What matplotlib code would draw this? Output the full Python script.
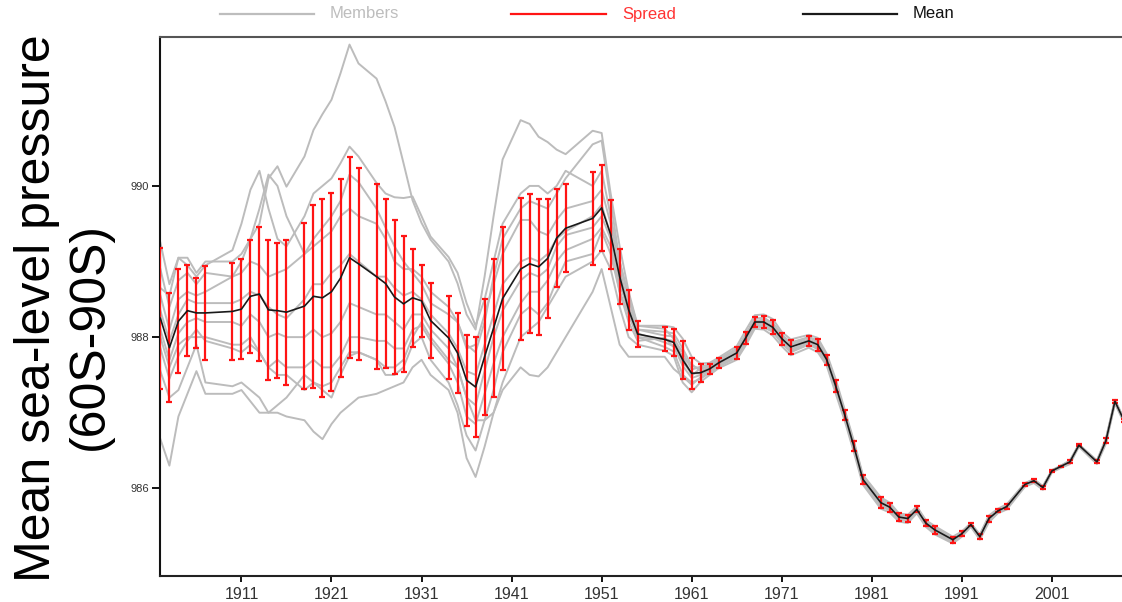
import matplotlib
matplotlib.use("Agg")
import matplotlib.pyplot as plt
from matplotlib.lines import Line2D

plt.rcParams['font.family'] = ['Liberation Sans', 'DejaVu Sans']

# Years with data (some years are missing in the source series)
years = [1902, 1903, 1904, 1905, 1906, 1907,
         1910, 1911, 1912, 1913, 1914, 1915, 1916,
         1918, 1919, 1920, 1921, 1922, 1923, 1924,
         1926, 1927, 1928, 1929, 1930, 1931, 1932,
         1934, 1935, 1936, 1937, 1938, 1939, 1940,
         1942, 1943, 1944, 1945, 1946, 1947,
         1950, 1951, 1952, 1953, 1954, 1955,
         1958, 1959, 1960, 1961, 1962, 1963, 1964,
         1966, 1967, 1968, 1969, 1970, 1971, 1972,
         1974, 1975, 1976, 1977, 1978, 1979, 1980,
         1982, 1983, 1984, 1985, 1986, 1987, 1988,
         1990, 1991, 1992, 1993, 1994, 1995, 1996,
         1998, 1999, 2000, 2001, 2002, 2003, 2004,
         2006, 2007, 2008, 2009]

# Ensemble mean (hPa)
mean_slp = [988.25, 987.86, 988.21, 988.35, 988.32, 988.32,
            988.34, 988.37, 988.54, 988.57, 988.36, 988.35, 988.33,
            988.41, 988.54, 988.52, 988.60, 988.78, 989.05, 988.97,
            988.80, 988.71, 988.53, 988.44, 988.52, 988.48, 988.22,
            987.99, 987.79, 987.43, 987.34, 987.74, 988.12, 988.51,
            988.90, 988.97, 988.93, 989.04, 989.31, 989.44,
            989.57, 989.71, 989.36, 988.80, 988.36, 988.04,
            987.97, 987.93, 987.70, 987.52, 987.53, 987.58, 987.66,
            987.79, 987.99, 988.20, 988.20, 988.13, 987.98, 987.87,
            987.95, 987.90, 987.70, 987.35, 986.97, 986.56, 986.12,
            985.81, 985.75, 985.62, 985.60, 985.72, 985.54, 985.45,
            985.32, 985.40, 985.52, 985.36, 985.60, 985.70, 985.76,
            986.05, 986.10, 986.01, 986.23, 986.29, 986.35, 986.57,
            986.35, 986.63, 987.15, 986.90]

# Spread (half length of the red bars, hPa)
spread = [0.93, 0.72, 0.69, 0.60, 0.46, 0.62,
          0.64, 0.66, 0.75, 0.89, 0.93, 0.89, 0.96,
          1.10, 1.21, 1.31, 1.31, 1.31, 1.33, 1.27,
          1.22, 1.12, 1.02, 0.90, 0.65, 0.48, 0.49,
          0.55, 0.53, 0.60, 0.66, 0.77, 0.91, 0.95,
          0.94, 0.92, 0.90, 0.79, 0.65, 0.58,
          0.62, 0.57, 0.46, 0.36, 0.26, 0.17,
          0.16, 0.18, 0.25, 0.20, 0.12, 0.07, 0.07,
          0.08, 0.08, 0.07, 0.08, 0.09, 0.08, 0.09,
          0.07, 0.08, 0.07, 0.08, 0.07, 0.07, 0.06,
          0.07, 0.06, 0.05, 0.05, 0.04, 0.04, 0.05,
          0.04, 0.03, 0.02, 0.03, 0.04, 0.02, 0.03,
          0.02, 0.02, 0.02, 0.01, 0.01, 0.02, 0.01,
          0.02, 0.03, 0.02, 0.02]

# Members, 1902-1955 (absolute values, hPa)
mem_a = [989.25, 988.70, 989.05, 989.05, 988.85, 989.00,
         989.00, 989.10, 989.30, 989.50, 990.10, 990.26, 989.99,
         990.39, 990.74, 990.95, 991.14, 991.49, 991.87, 991.62,
         991.42, 991.12, 990.78, 990.30, 989.81, 989.51, 989.29,
         989.00, 988.71, 988.30, 988.10, 988.80, 989.60, 990.35,
         990.87, 990.82, 990.65, 990.58, 990.48, 990.42,
         990.73, 990.70, 989.90, 989.20, 988.60, 988.15]
mem_b = [988.90, 988.40, 988.75, 988.85, 988.70, 988.85,
         988.80, 988.85, 989.00, 988.95, 988.80, 988.85, 988.90,
         989.10, 989.30, 989.45, 989.60, 989.80, 990.15, 990.05,
         989.70, 989.45, 989.20, 989.00, 988.85, 988.70, 988.45,
         988.30, 988.20, 987.85, 987.90, 988.30, 988.70, 989.10,
         989.55, 989.55, 989.40, 989.35, 989.55, 989.70,
         989.80, 989.95, 989.50, 988.90, 988.40, 988.10]
mem_c = [988.65, 988.55, 989.05, 988.95, 988.80, 988.95,
         989.15, 989.50, 989.95, 990.20, 989.70, 989.30, 989.20,
         989.60, 989.90, 990.00, 990.10, 990.30, 990.52, 990.39,
         990.04, 989.90, 989.85, 989.84, 989.86, 989.60, 989.33,
         989.06, 988.85, 988.45, 988.15, 988.50, 989.00, 989.50,
         989.90, 990.00, 990.00, 989.90, 990.00, 990.20,
         990.00, 990.20, 989.60, 989.00, 988.55, 988.15]
mem_d = [988.55, 988.10, 988.50, 988.60, 988.55, 988.60,
         988.80, 989.00, 989.30, 989.70, 990.15, 990.00, 989.60,
         989.10, 989.20, 989.30, 989.40, 989.60, 989.70, 989.60,
         989.50, 989.30, 989.00, 988.90, 988.90, 988.80, 988.60,
         988.40, 988.20, 987.90, 987.80, 988.20, 988.80, 989.30,
         989.70, 989.80, 989.75, 989.70, 989.90, 990.10,
         990.55, 990.60, 989.80, 989.00, 988.50, 988.10]
mem_e = [988.35, 987.95, 988.30, 988.50, 988.45, 988.45,
         988.45, 988.50, 988.60, 988.55, 988.40, 988.30, 988.25,
         988.50, 988.70, 988.70, 988.85, 988.95, 989.10, 989.00,
         988.80, 988.80, 988.65, 988.55, 988.60, 988.50, 988.30,
         988.05, 987.85, 987.55, 987.50, 987.90, 988.30, 988.70,
         989.00, 989.05, 989.00, 989.10, 989.30, 989.40,
         989.60, 989.75, 989.35, 988.80, 988.30, 988.00]
mem_f = [988.10, 987.70, 988.05, 988.20, 988.25, 988.20,
         988.20, 988.15, 988.30, 988.20, 988.00, 988.05, 988.00,
         988.00, 988.10, 988.00, 988.05, 988.20, 988.45, 988.40,
         988.30, 988.30, 988.20, 988.10, 988.30, 988.30, 988.10,
         987.85, 987.60, 987.20, 987.10, 987.55, 988.00, 988.35,
         988.75, 988.85, 988.80, 988.90, 989.20, 989.35,
         989.45, 989.60, 989.30, 988.70, 988.35, 988.05]
mem_g = [987.85, 987.45, 987.75, 987.95, 988.10, 987.95,
         987.85, 987.80, 987.90, 987.80, 987.60, 987.70, 987.60,
         987.60, 987.70, 987.60, 987.60, 987.75, 988.00, 988.00,
         987.95, 987.95, 987.85, 987.85, 988.10, 988.15, 987.95,
         987.65, 987.40, 986.95, 986.85, 987.25, 987.65, 988.00,
         988.45, 988.60, 988.60, 988.75, 989.00, 989.15,
         989.30, 989.45, 989.20, 988.60, 988.30, 988.00]
mem_h = [987.55, 987.20, 987.30, 987.60, 987.90, 987.40,
         987.35, 987.40, 987.30, 987.20, 987.00, 987.00, 986.95,
         986.90, 986.75, 986.65, 986.85, 987.00, 987.10, 987.20,
         987.25, 987.30, 987.35, 987.40, 987.60, 987.70, 987.50,
         987.30, 987.00, 986.40, 986.15, 986.55, 987.00, 987.40,
         988.00, 988.10, 988.20, 988.40, 988.60, 988.80,
         989.00, 989.15, 988.90, 988.40, 988.00, 987.90]
mem_i = [986.65, 986.30, 986.95, 987.25, 987.55, 987.25,
         987.25, 987.30, 987.15, 987.00, 987.00, 987.10, 987.20,
         987.50, 987.40, 987.30, 987.20, 987.50, 987.75, 987.80,
         987.70, 987.50, 987.50, 987.60, 987.90, 988.00, 987.70,
         987.40, 987.10, 986.70, 986.50, 986.90, 987.30, 987.80,
         988.30, 988.40, 988.30, 988.45, 988.75, 989.00,
         989.10, 989.40, 989.10, 988.60, 988.20, 987.95]
mem_j = [988.00, 987.60, 987.90, 988.00, 988.00, 988.00,
         987.90, 987.90, 988.00, 987.80, 987.60, 987.50, 987.50,
         987.30, 987.40, 987.35, 987.40, 987.60, 987.80, 987.80,
         987.70, 987.60, 987.60, 987.70, 988.00, 988.20, 988.00,
         987.70, 987.60, 987.20, 986.90, 986.90, 987.00, 987.30,
         987.60, 987.50, 987.48, 987.60, 987.80, 988.00,
         988.60, 988.90, 988.40, 987.90, 987.74, 987.74]

# Members, 1958-2009: they hug the mean, so read as offsets from it (hPa)
dev_a = [0.18, 0.20, 0.28, 0.22, 0.12, 0.08, 0.07,
         0.09, 0.10, 0.09, 0.10, 0.11, 0.09, 0.10,
         0.08, 0.09, 0.08, 0.09, 0.07, 0.07, 0.06,
         0.07, 0.06, 0.05, 0.05, 0.04, 0.04, 0.05,
         0.04, 0.03, 0.02, 0.03, 0.04, 0.03, 0.03,
         0.02, 0.02, 0.02, 0.01, 0.01, 0.02, 0.01,
         0.02, 0.03, 0.02, 0.02]
dev_b = [0.10, 0.12, 0.15, 0.10, 0.05, 0.04, 0.03,
         0.04, 0.05, 0.04, 0.06, 0.05, 0.05, 0.06,
         0.05, 0.04, 0.05, 0.04, 0.05, 0.03, 0.03,
         0.04, 0.03, 0.03, 0.02, 0.02, 0.02, 0.03,
         0.02, 0.02, 0.01, 0.02, 0.02, 0.01, 0.02,
         0.01, 0.01, 0.01, 0.01, 0.00, 0.01, 0.01,
         0.01, 0.02, 0.01, 0.01]
dev_c = [0.14, 0.05, 0.10, 0.05, 0.08, 0.06, 0.05,
         0.06, 0.02, 0.06, 0.03, 0.06, 0.06, 0.03,
         0.05, 0.06, 0.04, 0.05, 0.04, 0.05, 0.04,
         0.04, 0.04, 0.02, 0.03, 0.03, 0.01, 0.02,
         0.03, 0.01, 0.01, 0.01, 0.03, 0.01, 0.01,
         0.01, 0.02, 0.01, 0.00, 0.01, 0.01, 0.00,
         0.01, 0.01, 0.02, 0.01]
dev_d = [0.05, 0.08, 0.02, 0.12, 0.02, 0.02, 0.02,
         0.02, 0.03, 0.01, 0.02, 0.02, 0.03, 0.02,
         0.02, 0.02, 0.01, 0.02, 0.02, 0.01, 0.02,
         0.02, 0.01, 0.01, 0.01, 0.01, 0.02, 0.01,
         0.01, 0.01, 0.00, 0.01, 0.01, 0.00, 0.01,
         0.00, 0.00, 0.01, 0.00, 0.00, 0.00, 0.00,
         0.00, 0.01, 0.00, 0.00]
dev_e = [0.00, 0.02, -0.03, 0.00, -0.01, 0.00, 0.01,
         0.00, -0.01, 0.00, 0.01, -0.01, 0.00, 0.01,
         0.00, 0.01, 0.00, -0.01, 0.00, 0.01, 0.00,
         0.00, 0.01, 0.00, 0.00, -0.01, 0.00, 0.00,
         0.00, 0.00, 0.00, 0.00, 0.00, 0.00, 0.00,
         0.00, 0.00, 0.00, 0.00, 0.00, 0.00, 0.00,
         0.00, 0.00, 0.00, 0.00]
dev_f = [-0.04, -0.05, -0.08, -0.06, -0.03, -0.02, -0.02,
         -0.03, -0.02, -0.03, -0.02, -0.03, -0.02, -0.03,
         -0.02, -0.03, -0.02, -0.03, -0.02, -0.02, -0.02,
         -0.02, -0.02, -0.01, -0.02, -0.01, -0.01, -0.02,
         -0.01, -0.01, -0.01, -0.01, -0.01, -0.01, -0.01,
         0.00, -0.01, 0.00, 0.00, 0.00, -0.01, 0.00,
         -0.01, -0.01, 0.00, -0.01]
dev_g = [-0.10, -0.12, -0.20, -0.12, -0.08, -0.05, -0.05,
         -0.06, -0.07, -0.06, -0.07, -0.06, -0.06, -0.07,
         -0.05, -0.06, -0.05, -0.06, -0.05, -0.05, -0.04,
         -0.05, -0.04, -0.04, -0.03, -0.03, -0.03, -0.04,
         -0.03, -0.02, -0.02, -0.02, -0.03, -0.02, -0.02,
         -0.02, -0.01, -0.02, -0.01, -0.01, -0.01, -0.01,
         -0.01, -0.02, -0.02, -0.01]
dev_h = [-0.15, -0.18, -0.30, -0.25, -0.12, -0.08, -0.07,
         -0.09, -0.10, -0.09, -0.10, -0.11, -0.10, -0.11,
         -0.09, -0.10, -0.08, -0.10, -0.08, -0.08, -0.07,
         -0.08, -0.07, -0.06, -0.06, -0.05, -0.05, -0.06,
         -0.05, -0.04, -0.03, -0.04, -0.05, -0.03, -0.04,
         -0.03, -0.03, -0.03, -0.02, -0.02, -0.03, -0.02,
         -0.03, -0.04, -0.03, -0.03]
dev_i = [0.02, -0.06, 0.05, -0.03, 0.06, 0.03, -0.04,
         0.03, -0.04, 0.02, -0.03, 0.03, -0.04, 0.04,
         -0.03, 0.03, -0.02, 0.03, -0.03, 0.02, -0.02,
         0.03, -0.02, 0.02, -0.02, 0.02, -0.02, 0.02,
         -0.02, 0.01, -0.01, 0.01, -0.01, 0.01, -0.01,
         0.01, -0.01, 0.01, -0.01, 0.01, -0.01, 0.01,
         -0.01, 0.01, -0.01, 0.01]
dev_j = [-0.23, -0.35, -0.22, -0.15, -0.06, -0.04, -0.03,
         -0.05, -0.04, -0.05, -0.04, -0.05, -0.04, -0.05,
         -0.04, -0.04, -0.03, -0.04, -0.04, -0.03, -0.03,
         -0.03, -0.03, -0.02, -0.02, -0.02, -0.02, -0.02,
         -0.02, -0.01, -0.01, -0.01, -0.02, -0.01, -0.01,
         -0.01, -0.01, -0.01, 0.00, 0.00, -0.01, 0.00,
         -0.01, -0.01, -0.01, -0.01]

early_members = [mem_a, mem_b, mem_c, mem_d, mem_e, mem_f, mem_g, mem_h, mem_i, mem_j]
late_devs = [dev_a, dev_b, dev_c, dev_d, dev_e, dev_f, dev_g, dev_h, dev_i, dev_j]

xticks = [1911, 1921, 1931, 1941, 1951, 1961, 1971, 1981, 1991, 2001]
yticks = [986, 988, 990]

W, H = 1122, 602
fig = plt.figure(figsize=(W / 100, H / 100), dpi=100)

# axes runs past the right edge of the picture (the reference is cropped there)
x0, x1 = 1901.9, 2010.0
px_per_year = 9.005
ax = fig.add_axes([159.5 / W, 26 / H, (x1 - x0) * px_per_year / W, 539 / H])
ax.set_xlim(x0, x1)
ax.set_ylim(984.84, 991.97)

n_early = len(mem_a)
for early, dev in zip(early_members, late_devs):
    vals = early + [m + d for m, d in zip(mean_slp[n_early:], dev)]
    ax.plot(years, vals, color='#bcbcbc', lw=1.4, zorder=1, solid_joinstyle='round')

ax.errorbar(years, mean_slp, yerr=spread, fmt='none', ecolor='#ff1414',
            elinewidth=1.6, capsize=2.2, capthick=1.6, zorder=3)
ax.plot(years, mean_slp, color='#1a1a1a', lw=1.2, zorder=4)

for side in ['left', 'bottom', 'top', 'right']:
    ax.spines[side].set_linewidth(1.5)
ax.spines['left'].set_color('#111111')
ax.spines['bottom'].set_color('#222222')
ax.spines['top'].set_color('#555555')

ax.set_xticks(xticks)
ax.set_yticks(yticks)
ax.tick_params(axis='y', length=6, width=1.3, labelsize=8, labelcolor='#333333', pad=1.5)
ax.tick_params(axis='x', length=4, width=1.3, labelsize=11.5, labelcolor='#333333', pad=4)

# y label: two lines placed separately
fig.text(37 / W, 1 - 308 / H, 'Mean sea-level pressure', rotation=90,
         ha='center', va='center', fontsize=36, color='black')
fig.text(90 / W, 1 - 336 / H, '(60S-90S)', rotation=90,
         ha='center', va='center', fontsize=36, color='black')

# legend across the top
ly = 1 - 14 / H
legend_items = [(220, 314, 330, 'Members', '#bdbdbd', '#bdbdbd'),
                (511, 606, 622, 'Spread', '#ff1414', '#ff3333'),
                (803, 897, 913, 'Mean', '#1a1a1a', '#111111')]
for xa, xb, xt, label, lc, tc in legend_items:
    fig.add_artist(Line2D([xa / W, xb / W], [ly, ly], color=lc, lw=1.6,
                          transform=fig.transFigure))
    fig.text(xt / W, ly, label, ha='left', va='center', fontsize=12, color=tc)

fig.savefig('out.png', dpi=100)
